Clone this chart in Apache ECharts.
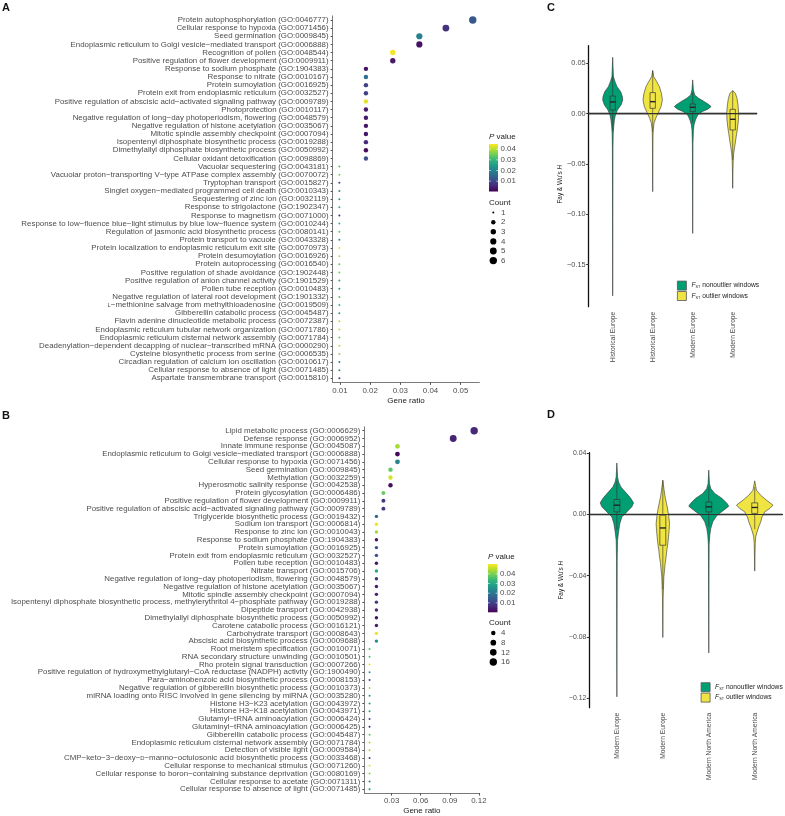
<!DOCTYPE html>
<html><head><meta charset="utf-8">
<script src="https://cdn.jsdelivr.net/npm/echarts@6/dist/echarts.min.js"></script>
<style>html,body{margin:0;padding:0;background:#fff}#c{width:785px;height:816px}</style>
</head><body><div id="c"></div>
<script>
// ---------------- Panel A data ----------------
const termsA = [
'Protein autophosphorylation (GO:0046777)',
'Cellular response to hypoxia (GO:0071456)',
'Seed germination (GO:0009845)',
'Endoplasmic reticulum to Golgi vesicle−mediated transport (GO:0006888)',
'Recognition of pollen (GO:0048544)',
'Positive regulation of flower development (GO:0009911)',
'Response to sodium phosphate (GO:1904383)',
'Response to nitrate (GO:0010167)',
'Protein sumoylation (GO:0016925)',
'Protein exit from endoplasmic reticulum (GO:0032527)',
'Positive regulation of abscisic acid−activated signaling pathway (GO:0009789)',
'Photoprotection (GO:0010117)',
'Negative regulation of long−day photoperiodism, flowering (GO:0048579)',
'Negative regulation of histone acetylation (GO:0035067)',
'Mitotic spindle assembly checkpoint (GO:0007094)',
'Isopentenyl diphosphate biosynthetic process (GO:0019288)',
'Dimethylallyl diphosphate biosynthetic process (GO:0050992)',
'Cellular oxidant detoxification (GO:0098869)',
'Vacuolar sequestering (GO:0043181)',
'Vacuolar proton−transporting V−type ATPase complex assembly (GO:0070072)',
'Tryptophan transport (GO:0015827)',
'Singlet oxygen−mediated programmed cell death (GO:0010343)',
'Sequestering of zinc ion (GO:0032119)',
'Response to strigolactone (GO:1902347)',
'Response to magnetism (GO:0071000)',
'Response to low−fluence blue−light stimulus by blue low−fluence system (GO:0010244)',
'Regulation of jasmonic acid biosynthetic process (GO:0080141)',
'Protein transport to vacuole (GO:0043328)',
'Protein localization to endoplasmic reticulum exit site (GO:0070973)',
'Protein desumoylation (GO:0016926)',
'Protein autoprocessing (GO:0016540)',
'Positive regulation of shade avoidance (GO:1902448)',
'Positive regulation of anion channel activity (GO:1901529)',
'Pollen tube reception (GO:0010483)',
'Negative regulation of lateral root development (GO:1901332)',
'L−methionine salvage from methylthioadenosine (GO:0019509)',
'Gibberellin catabolic process (GO:0045487)',
'Flavin adenine dinucleotide metabolic process (GO:0072387)',
'Endoplasmic reticulum tubular network organization (GO:0071786)',
'Endoplasmic reticulum cisternal network assembly (GO:0071784)',
'Deadenylation−dependent decapping of nuclear−transcribed mRNA (GO:0000290)',
'Cysteine biosynthetic process from serine (GO:0006535)',
'Circadian regulation of calcium ion oscillation (GO:0010617)',
'Cellular response to absence of light (GO:0071485)',
'Aspartate transmembrane transport (GO:0015810)'
];
const ratioA = [0.0540,0.0451,0.0363,0.0363,0.0275,0.0275,
0.0186,0.0186,0.0186,0.0186,0.0186,0.0186,0.0186,0.0186,0.0186,0.0186,0.0186,0.0186,
0.0098,0.0098,0.0098,0.0098,0.0098,0.0098,0.0098,0.0098,0.0098,0.0098,0.0098,0.0098,0.0098,0.0098,
0.0098,0.0098,0.0098,0.0098,0.0098,0.0098,0.0098,0.0098,0.0098,0.0098,0.0098,0.0098,0.0098];
const countA = [6,5,4,4,3,3,2,2,2,2,2,2,2,2,2,2,2,2,
1,1,1,1,1,1,1,1,1,1,1,1,1,1,1,1,1,1,1,1,1,1,1,1,1,1,1];
const pA = [0.0125,0.0067,0.0200,0.0025,0.0440,0.0035,0.0025,0.0165,0.0090,0.0090,0.0430,0.0035,0.0035,0.0028,0.0028,0.0055,0.0015,0.0115,
0.0320,0.0360,0.0100,0.0220,0.0250,0.0280,0.0060,0.0300,0.0330,0.0220,0.0430,0.0400,0.0340,0.0350,0.0270,0.0250,0.0330,0.0300,0.0250,0.0400,0.0410,0.0340,0.0400,0.0380,0.0200,0.0220,0.0080];
const ticksA = [0.01,0.02,0.03,0.04,0.05];
const pTicksA = [0.01,0.02,0.03,0.04];
const countLegendA = [1,2,3,4,5,6];

// ---------------- Panel B data ----------------
const termsB = [
'Lipid metabolic process (GO:0006629)',
'Defense response (GO:0006952)',
'Innate immune response (GO:0045087)',
'Endoplasmic reticulum to Golgi vesicle−mediated transport (GO:0006888)',
'Cellular response to hypoxia (GO:0071456)',
'Seed germination (GO:0009845)',
'Methylation (GO:0032259)',
'Hyperosmotic salinity response (GO:0042538)',
'Protein glycosylation (GO:0006486)',
'Positive regulation of flower development (GO:0009911)',
'Positive regulation of abscisic acid−activated signaling pathway (GO:0009789)',
'Triglyceride biosynthetic process (GO:0019432)',
'Sodium ion transport (GO:0006814)',
'Response to zinc ion (GO:0010043)',
'Response to sodium phosphate (GO:1904383)',
'Protein sumoylation (GO:0016925)',
'Protein exit from endoplasmic reticulum (GO:0032527)',
'Pollen tube reception (GO:0010483)',
'Nitrate transport (GO:0015706)',
'Negative regulation of long−day photoperiodism, flowering (GO:0048579)',
'Negative regulation of histone acetylation (GO:0035067)',
'Mitotic spindle assembly checkpoint (GO:0007094)',
'Isopentenyl diphosphate biosynthetic process, methylerythritol 4−phosphate pathway (GO:0019288)',
'Dipeptide transport (GO:0042938)',
'Dimethylallyl diphosphate biosynthetic process (GO:0050992)',
'Carotene catabolic process (GO:0016121)',
'Carbohydrate transport (GO:0008643)',
'Abscisic acid biosynthetic process (GO:0009688)',
'Root meristem specification (GO:0010071)',
'RNA secondary structure unwinding (GO:0010501)',
'Rho protein signal transduction (GO:0007266)',
'Positive regulation of hydroxymethylglutaryl−CoA reductase (NADPH) activity (GO:1900490)',
'Para−aminobenzoic acid biosynthetic process (GO:0008153)',
'Negative regulation of gibberellin biosynthetic process (GO:0010373)',
'miRNA loading onto RISC involved in gene silencing by miRNA (GO:0035280)',
'Histone H3−K23 acetylation (GO:0043972)',
'Histone H3−K18 acetylation (GO:0043971)',
'Glutamyl−tRNA aminoacylation (GO:0006424)',
'Glutaminyl−tRNA aminoacylation (GO:0006425)',
'Gibberellin catabolic process (GO:0045487)',
'Endoplasmic reticulum cisternal network assembly (GO:0071784)',
'Detection of visible light (GO:0009584)',
'CMP−keto−3−deoxy−D−manno−octulosonic acid biosynthetic process (GO:0033468)',
'Cellular response to mechanical stimulus (GO:0071260)',
'Cellular response to boron−containing substance deprivation (GO:0080169)',
'Cellular response to acetate (GO:0071311)',
'Cellular response to absence of light (GO:0071485)'
];
const ratioB = [0.1151,0.0935,0.0360,0.0360,0.0360,0.0288,0.0288,0.0288,0.0215,0.0215,0.0215,
0.0143,0.0143,0.0143,0.0143,0.0143,0.0143,0.0143,0.0143,0.0143,0.0143,0.0143,0.0143,0.0143,0.0143,0.0143,0.0143,0.0143,
0.0072,0.0072,0.0072,0.0072,0.0072,0.0072,0.0072,0.0072,0.0072,0.0072,0.0072,0.0072,0.0072,0.0072,0.0072,0.0072,0.0072,0.0072,0.0072];
const countB = [16,13,5,5,5,4,4,4,3,3,3,
2,2,2,2,2,2,2,2,2,2,2,2,2,2,2,2,2,
1,1,1,1,1,1,1,1,1,1,1,1,1,1,1,1,1,1,1];
const pB = [0.0060,0.0050,0.0435,0.0015,0.0225,0.0375,0.0470,0.0020,0.0385,0.0080,0.0080,
0.0170,0.0490,0.0430,0.0020,0.0120,0.0120,0.0030,0.0300,0.0070,0.0040,0.0040,0.0080,0.0060,0.0025,0.0040,0.0490,0.0240,
0.0350,0.0350,0.0480,0.0260,0.0110,0.0420,0.0260,0.0290,0.0290,0.0110,0.0060,0.0370,0.0430,0.0430,0.0090,0.0480,0.0410,0.0220,0.0260];
const ticksB = [0.03,0.06,0.09,0.12];
const pTicksB = [0.01,0.02,0.03,0.04];
const countLegendB = [4,8,12,16];

// ---------------- Panel C data (violins: [value, half width in category units]) ----------------
const catsC = ['Historical Europe','Historical Europe','Modern Europe','Modern Europe'];
const groupC = ['non','out','non','out'];
const violinC1 = [[0.056,0],[0.0368,0.018],[0.0318,0.058],[0.0268,0.108],[0.0218,0.2],[0.0169,0.243],[0.0136,0.25],[0.0086,0.208],[0.0036,0.118],[-0.0013,0.068],[-0.0063,0.043],[-0.0129,0.025],[-0.0195,0.013],[-0.035,0.007],[-0.181,0]];
const violinC2 = [[0.0428,0],[0.0368,0.025],[0.0318,0.1],[0.0268,0.168],[0.0202,0.218],[0.0136,0.243],[0.0069,0.208],[0.0003,0.133],[-0.0046,0.075],[-0.0096,0.033],[-0.0162,0.013],[-0.025,0.007],[-0.0775,0]];
const violinC3 = [[0.0335,0],[0.0235,0.018],[0.0185,0.05],[0.0152,0.15],[0.0119,0.293],[0.0086,0.418],[0.0069,0.458],[0.0043,0.375],[0.002,0.233],[-0.0013,0.125],[-0.0063,0.068],[-0.0113,0.033],[-0.0162,0.018],[-0.03,0.007],[-0.119,0]];
const violinC4 = [[0.0229,0],[0.0202,0.068],[0.0152,0.108],[0.0086,0.133],[0.0003,0.15],[-0.0063,0.143],[-0.0129,0.125],[-0.0195,0.1],[-0.0262,0.075],[-0.0328,0.05],[-0.0394,0.025],[-0.046,0.013],[-0.055,0.007],[-0.0742,0]];
// box: [lower whisker, q1, median, q3, upper whisker]
const boxC = [[-0.017,0.0036,0.0116,0.0175,0.038],[-0.018,0.0053,0.0119,0.0209,0.0428],[-0.009,0.002,0.0063,0.0096,0.021],[-0.046,-0.0162,-0.0056,0.0043,0.0229]];
const ticksC = [-0.15,-0.10,-0.05,0,0.05];

// ---------------- Panel D data ----------------
const catsD = ['Modern Europe','Modern Europe','Modern North America','Modern North America'];
const groupD = ['non','out','non','out'];
const violinD1 = [[0.0337,0],[0.0246,0.015],[0.0213,0.037],[0.018,0.087],[0.0148,0.18],[0.0111,0.29],[0.0076,0.363],[0.005,0.326],[0.0017,0.217],[-0.0016,0.109],[-0.0059,0.065],[-0.0113,0.037],[-0.0168,0.015],[-0.03,0.007],[-0.1192,0]];
const violinD2 = [[0.0224,0],[0.0159,0.028],[0.0115,0.05],[0.0072,0.08],[0.0028,0.109],[-0.0016,0.13],[-0.0059,0.146],[-0.0103,0.137],[-0.0146,0.124],[-0.019,0.109],[-0.0233,0.087],[-0.0277,0.072],[-0.032,0.05],[-0.0364,0.037],[-0.0408,0.022],[-0.0473,0.015],[-0.055,0.007],[-0.0804,0]];
const violinD3 = [[0.029,0],[0.0203,0.015],[0.017,0.043],[0.0137,0.13],[0.0105,0.29],[0.0072,0.398],[0.0054,0.435],[0.0028,0.326],[-0.0005,0.18],[-0.0048,0.087],[-0.0092,0.043],[-0.0135,0.022],[-0.02,0.008],[-0.0905,0]];
const violinD4 = [[0.022,0],[0.0159,0.037],[0.0126,0.13],[0.0094,0.254],[0.0061,0.398],[0.0039,0.326],[0.0017,0.217],[-0.0016,0.159],[-0.0048,0.13],[-0.0081,0.087],[-0.0114,0.05],[-0.0146,0.022],[-0.019,0.011],[-0.037,0]];
const boxD = [[-0.010,0.0017,0.0061,0.0098,0.022],[-0.049,-0.0201,-0.0088,-0.0005,0.0224],[-0.008,0.0017,0.005,0.0082,0.018],[-0.0095,0.0007,0.0046,0.0076,0.018]];
const ticksD = [-0.12,-0.08,-0.04,0,0.04];

// ---------------- styling / helpers ----------------
const FONT = 'Liberation Sans, Arial, sans-serif';
const viridis = ['#440154','#482878','#3e4989','#31688e','#26828e','#1f9e89','#35b779','#6ece58','#b5de2b','#fde725'];
const GREEN = '#009E73', YELLOW = '#F0E442';
const domA = [0.0003, 0.0448], domB = [0.0002, 0.0502];

function sizeFn(c, cmin, cmax){ // ggplot area scale, diameter in px
  return 2 + Math.sqrt((c - cmin)/(cmax - cmin)) * 5.4;
}
function termFmt(s){
  return s.replace(/^L−/, '{sc|L}−').replace('−D−manno', '−{sc|D}−manno');
}
function numFmt(v){ return (v < 0 ? '−' : '') + Math.abs(v).toFixed(2); }

const chart = echarts.init(document.getElementById('c'), null, {renderer:'canvas'});

function dotY(terms, gi){
  return {type:'category', gridIndex:gi, data:terms, inverse:true,
    axisLine:{lineStyle:{color:'#7a7a7a', width:1}},
    axisTick:{show:true, alignWithLabel:true, interval:0, length:2, lineStyle:{color:'#555'}},
    axisLabel:{interval:0, fontSize:7.9, color:'#4d4d4d', margin:4, fontFamily:FONT,
      formatter: termFmt, rich:{sc:{fontSize:5.8, color:'#4d4d4d', fontFamily:FONT}}},
    splitLine:{show:false}};
}
function dotX(gi, min, max, ticks){
  return {type:'value', gridIndex:gi, min:min, max:max,
    axisLine:{show:true, lineStyle:{color:'#7a7a7a', width:1}},
    axisTick:{show:true, customValues:ticks, length:2.5, lineStyle:{color:'#555'}},
    axisLabel:{customValues:ticks, formatter:v=>v.toFixed(2), fontSize:7.9, color:'#4d4d4d', margin:4, fontFamily:FONT},
    splitLine:{show:false},
    name:'Gene ratio', nameLocation:'middle', nameGap:14,
    nameTextStyle:{fontSize:8, color:'#1a1a1a', fontFamily:FONT, verticalAlign:'top'}};
}
function violX(gi, cats){
  return {type:'value', gridIndex:gi, min:0.4, max:4.6,
    axisLine:{show:true, lineStyle:{color:'#111', width:1.3}},
    axisTick:{show:true, customValues:[1,2,3,4], length:3, lineStyle:{color:'#333'}},
    axisLabel:{customValues:[1,2,3,4], formatter:v=>cats[Math.round(v)-1], rotate:90, fontSize:6.7, color:'#4d4d4d', margin:5, fontFamily:FONT},
    splitLine:{show:false}};
}
function violY(gi, min, max, ticks, pad, fs){
  return {type:'value', gridIndex:gi, min:min, max:max,
    axisLine:{show:true, lineStyle:{color:'#111', width:1.3}},
    axisTick:{show:true, customValues:ticks, length:2.5, lineStyle:{color:'#333'}},
    axisLabel:{customValues:ticks, formatter:numFmt, fontSize:fs, color:'#4d4d4d', margin:3, fontFamily:FONT},
    splitLine:{show:false},
    name:"{n|Fay & Wu's }{i|H}", nameLocation:'middle', nameGap:25, nameRotate:90,
    nameTextStyle:{fontSize:6.4, color:'#222', fontFamily:FONT, padding:pad,
      rich:{n:{fontSize:6.4, color:'#222', fontFamily:FONT}, i:{fontSize:6.4, color:'#222', fontStyle:'italic', fontFamily:FONT}}}};
}

function makeRender(profiles, boxes, halfBox){
  return function(params, api){
    const xc = api.value(0), k = api.value(2);
    const p = profiles[k];
    const pts = [];
    for (let j = 0; j < p.length; j++) pts.push(api.coord([xc - p[j][1], p[j][0]]));
    for (let j = p.length - 1; j >= 0; j--) pts.push(api.coord([xc + p[j][1], p[j][0]]));
    const b = boxes[k];
    const lo = api.coord([xc, b[0]]), q1 = api.coord([xc, b[1]]), q3 = api.coord([xc, b[3]]), hi = api.coord([xc, b[4]]);
    const a = api.coord([xc - halfBox, b[3]]), c2 = api.coord([xc + halfBox, b[1]]);
    const m1 = api.coord([xc - halfBox, b[2]]), m2 = api.coord([xc + halfBox, b[2]]);
    const col = api.visual('color');
    return {type:'group', children:[
      {type:'polygon', shape:{points:pts}, style:{fill:col, stroke:'#333', lineWidth:0.6}},
      {type:'line', shape:{x1:hi[0], y1:hi[1], x2:q3[0], y2:q3[1]}, style:{stroke:'#333', lineWidth:0.6}},
      {type:'line', shape:{x1:q1[0], y1:q1[1], x2:lo[0], y2:lo[1]}, style:{stroke:'#333', lineWidth:0.6}},
      {type:'rect', shape:{x:a[0], y:a[1], width:c2[0]-a[0], height:c2[1]-a[1]}, style:{fill:col, stroke:'#333', lineWidth:0.7}},
      {type:'line', shape:{x1:m1[0], y1:m1[1], x2:m2[0], y2:m2[1]}, style:{stroke:'#222', lineWidth:1.4}}
    ]};
  };
}
function violinSeries(name, color, ai, groups, profiles, boxes, halfBox){
  const data = [];
  groups.forEach((g, i) => { if (g === name) data.push([i + 1, boxes[i][2], i]); });
  return {type:'custom', name:name, xAxisIndex:ai, yAxisIndex:ai, data:data,
    encode:{x:0, y:1}, itemStyle:{color:color}, renderItem:makeRender(profiles, boxes, halfBox), z:2, silent:true};
}
function zeroLine(ai){
  return {type:'line', xAxisIndex:ai, yAxisIndex:ai, data:[[0.4,0],[4.6,0]], symbol:'none', silent:true,
    lineStyle:{color:'#333', width:1.2}, z:5};
}

// graphic: colorbars and count legends
const graphics = [];
function letter(t, x, y){ graphics.push({type:'text', x:x, y:y, style:{text:t, font:'bold 11px '+FONT, fill:'#111'}}); }
letter('A', 2, 2); letter('B', 2, 410); letter('C', 547, 2); letter('D', 547, 409);

function colorbar(x, y, w, h, dom, ticks){
  graphics.push({type:'text', x:x, y:y-7, style:{text:'{i|P} value', font:'8px '+FONT, fill:'#1a1a1a', verticalAlign:'middle',
    rich:{i:{fontStyle:'italic', fontSize:8, fontFamily:FONT, fill:'#1a1a1a'}}}});
  const stops = viridis.map((c, i) => ({offset:i/(viridis.length-1), color:c}));
  graphics.push({type:'rect', shape:{x:x, y:y, width:w, height:h},
    style:{fill:new echarts.graphic.LinearGradient(0, 1, 0, 0, stops)}});
  ticks.forEach(t => {
    const ty = y + (dom[1] - t) / (dom[1] - dom[0]) * h;
    graphics.push({type:'line', shape:{x1:x, y1:ty, x2:x+1.8, y2:ty}, style:{stroke:'#fff', lineWidth:0.6}});
    graphics.push({type:'line', shape:{x1:x+w-1.8, y1:ty, x2:x+w, y2:ty}, style:{stroke:'#fff', lineWidth:0.6}});
    graphics.push({type:'text', x:x+w+2.5, y:ty, style:{text:t.toFixed(2), font:'7.9px '+FONT, fill:'#4d4d4d', verticalAlign:'middle'}});
  });
}
function countLegend(x, y, step, vals, cmin, cmax){
  graphics.push({type:'text', x:x, y:y, style:{text:'Count', font:'8px '+FONT, fill:'#1a1a1a', verticalAlign:'middle'}});
  vals.forEach((v, i) => {
    const cy = y + 10.3 + i * step;
    graphics.push({type:'circle', shape:{cx:x+4.3, cy:cy, r:sizeFn(v, cmin, cmax)/2}, style:{fill:'#000'}});
    graphics.push({type:'text', x:x+12, y:cy, style:{text:String(v), font:'7.9px '+FONT, fill:'#4d4d4d', verticalAlign:'middle'}});
  });
}
colorbar(489, 144, 9, 47.5, domA, pTicksA);
countLegend(489, 202.3, 9.6, countLegendA, 1, 6);
colorbar(488, 564, 9.5, 48.3, domB, pTicksB);
countLegend(489, 622.7, 9.67, countLegendB, 1, 16);

const legendText = {
  non:'{f|F}{s|ST} nonoutlier windows',
  out:'{f|F}{s|ST} outlier windows'
};
function legendAt(left, top){
  return {data:['non','out'], orient:'vertical', left:left, top:top, itemWidth:9, itemHeight:9, itemGap:0.6,
    padding:0, icon:'rect', selectedMode:false,
    formatter:n => legendText[n],
    itemStyle:{borderColor:'#555', borderWidth:0.8},
    textStyle:{fontSize:6.7, color:'#222', fontFamily:FONT,
      rich:{f:{fontSize:6.7, fontStyle:'italic', color:'#222', fontFamily:FONT},
            s:{fontSize:3.8, color:'#222', fontFamily:FONT, verticalAlign:'bottom', padding:[3,0,0,0]}}}};
}

const option = {
  animation:false,
  backgroundColor:'#fff',
  textStyle:{fontFamily:FONT},
  grid:[
    {left:332.6, top:15.9, width:146.8, height:366.5, containLabel:false, outerBoundsMode:'none'},
    {left:364.3, top:426.8, width:115.1, height:366.3, containLabel:false, outerBoundsMode:'none'},
    {left:588.7, top:45.7, width:168, height:261, containLabel:false, outerBoundsMode:'none'},
    {left:589.3, top:452.7, width:193, height:255, containLabel:false, outerBoundsMode:'none'}
  ],
  xAxis:[
    dotX(0, 0.00756, 0.0562, ticksA),
    dotX(1, 0.0018, 0.1205, ticksB),
    violX(2, catsC),
    violX(3, catsD)
  ],
  yAxis:[
    dotY(termsA, 0),
    dotY(termsB, 1),
    violY(2, -0.1918, 0.0675, ticksC, [0,0,0,-16], 7.4),
    violY(3, -0.1263, 0.0404, ticksD, [0,0,0,0], 6.9)
  ],
  visualMap:[
    {type:'continuous', show:false, seriesIndex:0, dimension:2, min:domA[0], max:domA[1], inRange:{color:viridis}},
    {type:'continuous', show:false, seriesIndex:1, dimension:2, min:domB[0], max:domB[1], inRange:{color:viridis}}
  ],
  legend:[legendAt(677, 280.7), legendAt(700.7, 682.3)],
  series:[
    {type:'scatter', xAxisIndex:0, yAxisIndex:0, data:termsA.map((t,i)=>[ratioA[i], i, pA[i], countA[i]]),
      symbolSize:v=>sizeFn(v[3], 1, 6), itemStyle:{opacity:1}, silent:true},
    {type:'scatter', xAxisIndex:1, yAxisIndex:1, data:termsB.map((t,i)=>[ratioB[i], i, pB[i], countB[i]]),
      symbolSize:v=>sizeFn(v[3], 1, 16), itemStyle:{opacity:1}, silent:true},
    violinSeries('non', GREEN, 2, groupC, [violinC1,violinC2,violinC3,violinC4], boxC, 0.067),
    violinSeries('out', YELLOW, 2, groupC, [violinC1,violinC2,violinC3,violinC4], boxC, 0.067),
    zeroLine(2),
    violinSeries('non', GREEN, 3, groupD, [violinD1,violinD2,violinD3,violinD4], boxD, 0.065),
    violinSeries('out', YELLOW, 3, groupD, [violinD1,violinD2,violinD3,violinD4], boxD, 0.065),
    zeroLine(3)
  ],
  graphic:graphics
};
chart.setOption(option);
</script></body></html>
